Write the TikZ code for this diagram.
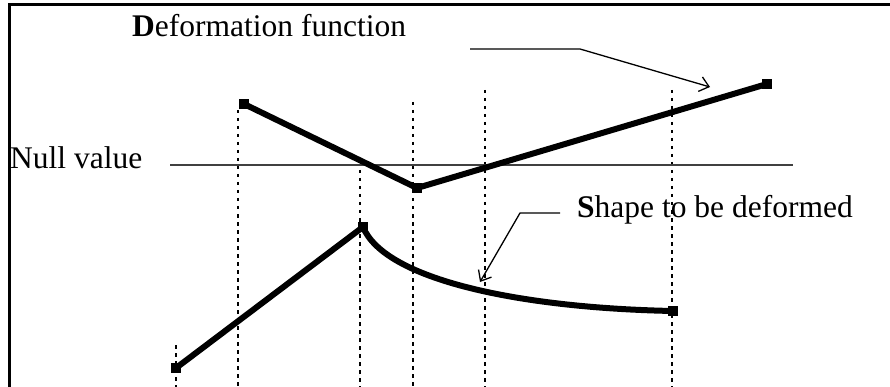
\documentclass[tikz,border=0pt]{standalone}
\usepackage{fontspec}
\setmainfont{Liberation Serif}
\usetikzlibrary{arrows.meta}
\begin{document}
\begin{tikzpicture}[x=1pt,y=-1pt,
  frame/.style={line width=3pt},
  thick line/.style={line width=6pt},
  guide/.style={line width=2pt, dash pattern=on 3.5pt off 4.5pt},
  nullline/.style={line width=1.3pt, black!75},
  pointer/.style={line width=1.3pt, -{Straight Barb[length=9pt,width=15pt,line width=1.3pt]}},
  pt/.style={fill=black, minimum size=10.5pt, inner sep=0pt, rectangle},
  lbl/.style={font=\fontsize{31.5}{36}\selectfont, anchor=base west, inner sep=0pt}]
\useasboundingbox (0,0) rectangle (890,387);
% frame
\draw[frame] (9,390) -- (9,5) -- (892,5);
% dotted guides
\coordinate (g1t) at (176,345); \coordinate (g1b) at (176,387);
\coordinate (g2t) at (238,110); \coordinate (g2b) at (238,387);
\coordinate (g3t) at (360,170); \coordinate (g3b) at (360,387);
\coordinate (g4t) at (413,102); \coordinate (g4b) at (413,387);
\coordinate (g5t) at (485,90);  \coordinate (g5b) at (485,387);
\coordinate (g6t) at (672,90);  \coordinate (g6b) at (672,387);
\foreach \i in {1,...,6} \draw[guide] (g\i t) -- (g\i b);
% null value line
\coordinate (n1) at (170,165); \coordinate (n2) at (793,165);
\draw[nullline] (n1) -- (n2);
% deformation function
\node[pt] (d1) at (244,104) {};
\node[pt] (d2) at (417,188) {};
\node[pt] (d3) at (767,84) {};
\draw[thick line] (d1.center) -- (d2.center) -- (d3.center);
% shape to be deformed
\node[pt] (s1) at (176,368) {};
\node[pt] (s2) at (363,227) {};
\node[pt] (s3) at (673,311) {};
\draw[thick line] (s1.center) -- (s2.center);
\draw[thick line] (s2.center) .. controls (385,280) and (520,308) .. (s3.center);
% labels
\node[lbl] (tdef) at (132,37) {\textbf{D}eformation function};
\node[lbl] (tnull) at (10,169) {Null value};
\node[lbl] (tshape) at (577,218) {\textbf{S}hape to be deformed};
% pointers
\coordinate (a1s) at (470,49); \coordinate (a1m) at (580,49); \coordinate (a1e) at (710,87);
\draw[pointer] (a1s) -- (a1m) -- (a1e);
\coordinate (a2s) at (560,213); \coordinate (a2m) at (520,213); \coordinate (a2e) at (480,282);
\draw[pointer] (a2s) -- (a2m) -- (a2e);
\end{tikzpicture}
\end{document}
